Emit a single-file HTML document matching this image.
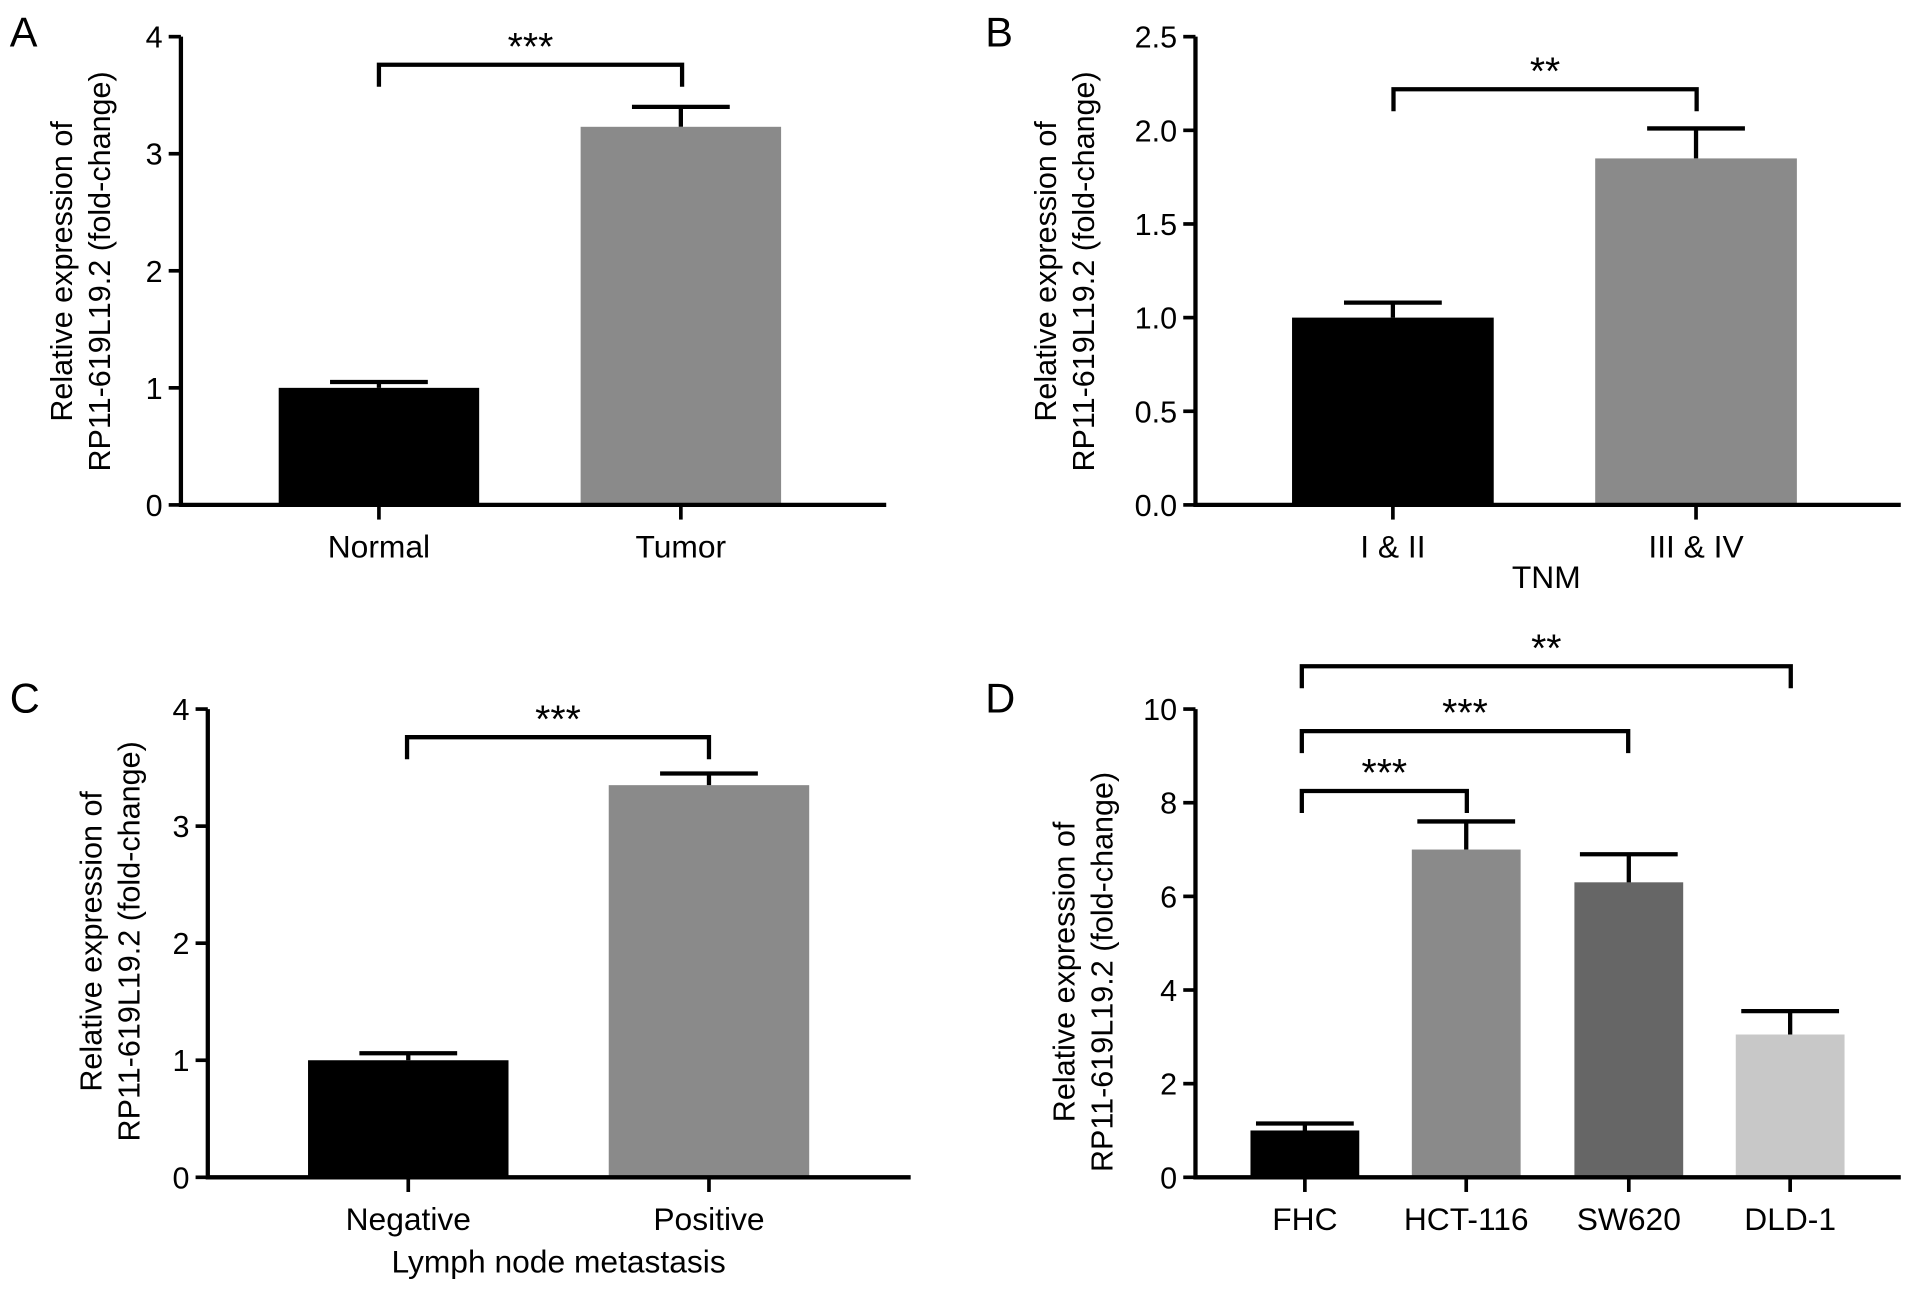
<!DOCTYPE html>
<html><head><meta charset="utf-8"><style>
html,body{margin:0;padding:0;background:#fff;}
svg{display:block;font-family:"Liberation Sans",Arial,sans-serif;}
</style></head><body>
<svg id="fig" width="1913" height="1291" viewBox="0 0 1565 1056" preserveAspectRatio="none" xmlns="http://www.w3.org/2000/svg"></svg>
<script>
// Panel A
const catsA = ["Normal","Tumor"];
const valsA = [1.0, 3.23];
const errA = [1.05, 3.40];
const ticksA = [0,1,2,3,4];
// Panel B
const catsB = ["I & II","III & IV"];
const valsB = [1.0, 1.85];
const errB = [1.08, 2.01];
const ticksB = ["0.0","0.5","1.0","1.5","2.0","2.5"];
// Panel C
const catsC = ["Negative","Positive"];
const valsC = [1.0, 3.35];
const errC = [1.06, 3.45];
const ticksC = [0,1,2,3,4];
// Panel D
const catsD = ["FHC","HCT-116","SW620","DLD-1"];
const valsD = [1.0, 7.0, 6.3, 3.05];
const errD = [1.15, 7.6, 6.9, 3.55];
const ticksD = [0,2,4,6,8,10];

const NS="http://www.w3.org/2000/svg";
const svg=document.getElementById('fig');
function mk(tag,attrs,parent,text){const e=document.createElementNS(NS,tag);for(const k in attrs)e.setAttribute(k,attrs[k]);if(text!==undefined)e.textContent=text;(parent||svg).appendChild(e);return e;}

function panel(cfg){
  const g=mk('g',{});
  
  
  const ymax=parseFloat(cfg.ticks[cfg.ticks.length-1]);
  const y=v=>cfg.y0-(v/ymax)*(cfg.y0-cfg.ytop);
  const lt=mk('text',{x:cfg.lx,y:cfg.ly,'font-size':34},g,cfg.id);
  
  
  cfg.cats.forEach((c,i)=>{
    const x0=cfg.barX[i], w=cfg.barW, cx=x0+w/2;
    const r=mk('rect',{x:x0,y:y(cfg.vals[i]),width:w,height:cfg.y0-y(cfg.vals[i]),fill:cfg.colors[i]},g);
    
    
    const e=mk('path',{d:`M${cx} ${y(cfg.vals[i])}V${y(cfg.err[i])}M${cx-40} ${y(cfg.err[i])}H${cx+40}`,stroke:'#000','stroke-width':3.5,fill:'none'},g);
    
    
    mk('line',{x1:cx,x2:cx,y1:cfg.y0,y2:cfg.y0+12,stroke:'#000','stroke-width':3},g);
    const t=mk('text',{x:cx,y:cfg.y0+43,'font-size':26,'text-anchor':'middle'},g,c);
    
    
  });
  const ax=mk('path',{d:`M${cfg.ax} ${cfg.ytop}V${cfg.y0}H${cfg.axEnd}`,stroke:'#000','stroke-width':3.5,fill:'none'},g);
  
  
  cfg.ticks.forEach(tk=>{
    const yy=y(parseFloat(tk));
    mk('line',{x1:cfg.ax-10,x2:cfg.ax,y1:yy,y2:yy,stroke:'#000','stroke-width':3},g);
    const t=mk('text',{x:cfg.ax-15,y:yy+9,'font-size':25,'text-anchor':'end'},g,String(tk));
    
    
  });
  const yt=mk('text',{transform:`translate(${cfg.tx},${cfg.tcy}) rotate(-90)`,'font-size':25,'text-anchor':'middle'},g);
  
  
  mk('tspan',{x:0,y:0},yt,'Relative expression of');
  mk('tspan',{x:0,y:31},yt,'RP11-619L19.2 (fold-change)');
  if(cfg.xtitle){
    const xt=mk('text',{x:cfg.xtitle[1],y:cfg.xtitle[2],'font-size':26,'text-anchor':'middle'},g,cfg.xtitle[0]);
    
    
  }
  cfg.brackets.forEach(b=>{
    const p=mk('path',{d:`M${b[0]} ${b[2]+18}V${b[2]}H${b[1]}V${b[2]+18}`,stroke:'#000','stroke-width':3.5,fill:'none'},g);
    
    
    const s=mk('text',{x:(b[0]+b[1])/2,y:b[2]-4,'font-size':32,'text-anchor':'middle'},g,b[3]);
    
    
  });
}
panel({id:'A',lx:8,ly:38,cats:catsA,vals:valsA,err:errA,ticks:ticksA,y0:413,ytop:30,ax:148,axEnd:725,barX:[228,475],barW:164,colors:['#000','#8a8a8a'],tx:59,tcy:222,brackets:[[310,558,53,'***']]});
panel({id:'B',lx:806,ly:38,cats:catsB,vals:valsB,err:errB,ticks:ticksB,y0:413,ytop:30,ax:978,axEnd:1555,barX:[1057,1305],barW:165,colors:['#000','#8a8a8a'],tx:864,tcy:222,xtitle:['TNM',1265,481],brackets:[[1140,1388,73,'**']]});
panel({id:'C',lx:8,ly:583,cats:catsC,vals:valsC,err:errC,ticks:ticksC,y0:963,ytop:580,ax:170,axEnd:745,barX:[252,498],barW:164,colors:['#000','#8a8a8a'],tx:83,tcy:770,xtitle:['Lymph node metastasis',457,1041],brackets:[[333,580,603,'***']]});
panel({id:'D',lx:806,ly:583,cats:catsD,vals:valsD,err:errD,ticks:ticksD,y0:963,ytop:580,ax:978,axEnd:1555,barX:[1023,1155,1288,1420],barW:89,colors:['#000','#8a8a8a','#666','#c8c8c8'],tx:879,tcy:795,brackets:[[1065,1200,647,'***'],[1065,1332,598,'***'],[1065,1465,545,'**']]});
</script>
</body></html>
